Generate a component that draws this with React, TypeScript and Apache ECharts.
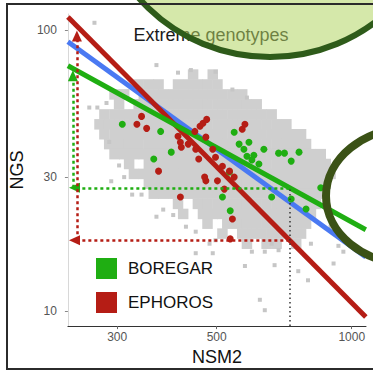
import React, { useEffect, useRef } from 'react';
import * as echarts from 'echarts';

const FONT = 'Liberation Sans, Arial, Helvetica, sans-serif';

const X_TICKS = [300, 500, 1000];
const Y_TICKS = [10, 30, 100];
const X_RANGE = [233, 1076];
const Y_RANGE = [8.87, 113.9];

// background cloud (all genotypes): each row = [NGS, NSM2 values]
const cloudRows: Array<[number, number[]]> = [
  [69.4, [443, 490]],
  [64.0, [335, 353, 371, 410, 432, 454, 477, 502]],
  [59.0, [296, 311, 344, 362, 380, 400, 421, 443, 466, 490, 515, 542, 570]],
  [54.4, [303, 335, 353, 371, 390, 410, 432, 454, 477, 502, 528, 555, 584, 614]],
  [50.1, [281, 296, 311, 327, 344, 362, 380, 400, 421, 443, 466, 490, 515, 542, 570, 599, 630, 663]],
  [46.2, [274, 288, 303, 319, 335, 353, 371, 390, 410, 432, 454, 477, 502, 528, 555, 584, 614, 646, 680, 715]],
  [42.6, [281, 296, 311, 327, 344, 362, 380, 400, 421, 443, 466, 490, 515, 542, 570, 599, 630, 663, 697, 733, 771]],
  [39.3, [288, 303, 319, 335, 353, 371, 390, 410, 432, 454, 477, 502, 528, 555, 584, 614, 646, 680, 715, 752, 791]],
  [36.2, [296, 311, 327, 344, 362, 380, 400, 421, 443, 466, 490, 515, 542, 570, 599, 630, 663, 697, 733, 771, 811, 853]],
  [33.4, [319, 353, 371, 390, 410, 432, 454, 477, 502, 528, 555, 584, 614, 646, 680, 715, 752, 791, 832, 875]],
  [30.8, [327, 344, 362, 380, 400, 421, 443, 466, 490, 515, 542, 570, 599, 630, 663, 697, 733, 771, 811, 853, 897]],
  [28.4, [353, 371, 390, 410, 432, 454, 477, 502, 528, 555, 584, 614, 646, 680, 715, 752, 791, 832, 875]],
  [26.2, [362, 380, 400, 421, 443, 466, 490, 515, 542, 570, 599, 630, 663, 697, 733, 771, 811, 853]],
  [24.1, [410, 454, 477, 502, 528, 555, 584, 614, 646, 680, 715, 752, 791, 832]],
  [22.2, [421, 466, 490, 515, 542, 570, 599, 630, 663, 697, 733, 771, 811]],
  [20.5, [477, 528, 555, 584, 614, 646, 680, 715, 752, 791]],
  [18.9, [515, 570, 599, 630, 663, 697, 733, 771]],
  [17.4, [584, 646, 680, 752]],
];

const cloudSparse: Array<[number, number]> = [
  [267, 106], [367, 75], [410, 70.5], [438, 72], [497, 71], [260, 53], [271, 53], [284, 55],
  [288, 40], [303, 33], [291, 29], [324, 26], [340, 26], [367, 21.7], [380, 23], [400, 22],
  [427, 20], [449, 19.2], [482, 17.4], [497, 17.9], [449, 16.1], [490, 16.1], [599, 16.3],
  [640, 16.3], [687, 16.5], [578, 14.5], [673, 14.6], [760, 13.9], [799, 12.9], [911, 14.8],
  [958, 16.3], [624, 11], [640, 10.1], [897, 20], [934, 17.1], [811, 17.4], [663, 17.4],
  [311, 30], [542, 61.4], [584, 57.5],
];

const boregar: Array<[number, number]> = [
  [308, 46.2], [375, 43.6], [396, 36.8], [362, 34.8], [547, 43.3], [561, 39.3], [590, 39.9],
  [575, 37.7], [637, 37.7], [687, 36.5], [708, 36.5], [763, 36.8], [605, 35.9], [599, 34.5],
  [621, 33.4], [733, 34.2], [534, 31.3], [515, 25.5], [536, 22.8], [663, 25.5], [733, 25.1],
  [791, 23.1], [853, 27.5], [584, 35.6],
];

const ephoros: Array<[number, number]> = [
  [332, 46.2], [340, 49.3], [349, 44.7], [371, 31.5], [410, 41.9], [415, 39.9], [417, 38.3],
  [415, 25.5], [447, 43.6], [459, 45.5], [466, 46.6], [475, 48.1], [473, 41.6], [449, 37.7],
  [497, 35.3], [515, 32.8], [534, 31.5], [547, 30.0], [473, 29.1], [502, 29.1], [470, 30.0],
  [578, 46.2], [570, 44.4], [542, 21.3], [536, 18.1], [432, 39.3], [490, 37.7], [456, 34.8],
  [520, 27.2],
];

// regression lines (end points)
const lineAll: Array<[number, number]> = [[233, 90.7], [1075, 15.6]];
const lineEphoros: Array<[number, number]> = [[233, 111.2], [1075, 9.55]];
const lineBoregar: Array<[number, number]> = [[233, 74.6], [1075, 19.5]];

// reading arrows
const DROP_X = 726;
const GREEN_LEVEL = 27.5;
const RED_LEVEL = 17.9;
const ARROW_TIP_X = 241;
const GREEN_VERT_X = 239;
const RED_VERT_X = 244;
const GREEN_TOP = 68.8;
const RED_TOP = 95.2;

const L = (p: [number, number]) => [Math.log10(p[0]), Math.log10(p[1])];

const GREEN = '#1fae12';
const RED = '#b51d15';
const BLUE = '#4a79f2';

export default function App() {
  const ref = useRef<HTMLDivElement>(null);
  useEffect(() => {
    if (!ref.current) return;
    const chart = echarts.init(ref.current, undefined, { renderer: 'svg' });
    const cloud = cloudRows.flatMap(([y, xs]) => xs.map((x) => L([x, y])));
    const mk = (a: [number, number], b: [number, number], color: string) => [
      { coord: L(a), lineStyle: { color, width: 2.5, type: [3, 3] } },
      { coord: L(b) },
    ];
    const option: any = {
      animation: false,
      backgroundColor: '#ffffff',
      textStyle: { fontFamily: FONT },
      grid: { left: 63, right: 7, top: 14, bottom: 43 },
      xAxis: {
        type: 'value',
        min: Math.log10(X_RANGE[0]),
        max: Math.log10(X_RANGE[1]),
        splitLine: { show: false },
        axisLine: { show: true, lineStyle: { color: '#333', width: 1 } },
        axisTick: { show: true, length: 3, customValues: X_TICKS.map((v) => Math.log10(v)), lineStyle: { color: '#666' } },
        axisLabel: {
          customValues: X_TICKS.map((v) => Math.log10(v)),
          formatter: (v: number) => String(Math.round(Math.pow(10, v))),
          fontSize: 12, color: '#555', margin: 5, fontFamily: FONT,
        },
        name: 'NSM2', nameLocation: 'middle', nameGap: 19,
        nameTextStyle: { fontSize: 18, color: '#111', fontFamily: FONT },
      },
      yAxis: {
        type: 'value',
        min: Math.log10(Y_RANGE[0]),
        max: Math.log10(Y_RANGE[1]),
        splitLine: { show: false },
        axisLine: { show: true, lineStyle: { color: '#d8d8d8', width: 1 } },
        axisTick: { show: true, length: 3, customValues: Y_TICKS.map((v) => Math.log10(v)), lineStyle: { color: '#888' } },
        axisLabel: {
          customValues: Y_TICKS.map((v) => Math.log10(v)),
          formatter: (v: number) => String(Math.round(Math.pow(10, v))),
          fontSize: 12, color: '#555', margin: 11, fontFamily: FONT,
        },
        name: 'NGS', nameLocation: 'middle', nameGap: 36,
        nameTextStyle: { fontSize: 18, color: '#111', fontFamily: FONT },
      },
      legend: {
        data: ['BOREGAR', 'EPHOROS'],
        orient: 'vertical', left: 96, top: 258, padding: 0,
        itemWidth: 21, itemHeight: 21, itemGap: 13, icon: 'rect',
        textStyle: { fontSize: 17, color: '#111', fontFamily: FONT, padding: [0, 0, 0, 6] },
      },
      series: [
        {
          name: 'cloud', type: 'scatter', symbol: 'rect', symbolSize: 10.5, silent: true, z: 1,
          itemStyle: { color: '#cfcfcf', opacity: 1 }, data: cloud,
        },
        {
          name: 'cloudSparse', type: 'scatter', symbol: 'rect', symbolSize: 4, silent: true, z: 2,
          itemStyle: { color: '#c6c6c6', opacity: 1 }, data: cloudSparse.map(L),
          markLine: {
            silent: true, symbol: ['none', 'triangle'], symbolSize: [10, 11],
            label: { show: false }, emphasis: { disabled: true },
            data: [
              mk([DROP_X, GREEN_LEVEL], [ARROW_TIP_X, GREEN_LEVEL], GREEN),
              mk([GREEN_VERT_X, GREEN_LEVEL], [GREEN_VERT_X, GREEN_TOP], GREEN),
              mk([DROP_X, RED_LEVEL], [ARROW_TIP_X, RED_LEVEL], RED),
              mk([RED_VERT_X, RED_LEVEL], [RED_VERT_X, RED_TOP], RED),
              [
                { coord: L([DROP_X, Y_RANGE[0]]), symbol: 'none', lineStyle: { color: '#333', width: 1.5, type: [1.5, 3] } },
                { coord: L([DROP_X, GREEN_LEVEL]), symbol: 'none' },
              ],
            ],
          },
        },
        {
          name: 'all', type: 'line', showSymbol: false, symbol: 'none', z: 3,
          lineStyle: { color: BLUE, width: 5 }, data: lineAll.map(L),
        },
        {
          name: 'EPHOROS fit', type: 'line', showSymbol: false, symbol: 'none', z: 3,
          lineStyle: { color: RED, width: 5 }, data: lineEphoros.map(L),
        },
        {
          name: 'BOREGAR fit', type: 'line', showSymbol: false, symbol: 'none', z: 3,
          lineStyle: { color: GREEN, width: 5 }, data: lineBoregar.map(L),
        },
        {
          name: 'BOREGAR', type: 'scatter', symbol: 'circle', symbolSize: 7, z: 4,
          itemStyle: { color: GREEN, opacity: 1 }, data: boregar.map(L),
        },
        {
          name: 'EPHOROS', type: 'scatter', symbol: 'circle', symbolSize: 7, z: 4,
          itemStyle: { color: RED, opacity: 1 }, data: ephoros.map(L),
        },
      ],
      graphic: [
        {
          type: 'text', z: 10, x: 211, y: 35,
          style: { text: 'Extreme genotypes', fontSize: 18, fontFamily: FONT, fill: '#1a1a1a', textAlign: 'center', textVerticalAlign: 'middle' },
        },
        {
          type: 'ellipse', z: 20,
          shape: { cx: 270, cy: -110, rx: 172, ry: 167 },
          style: { fill: 'rgba(179,213,100,0.55)', stroke: '#2e5b1a', lineWidth: 6 },
        },
        {
          type: 'ellipse', z: 20,
          shape: { cx: 410, cy: 196, rx: 84, ry: 68 },
          style: { fill: 'none', stroke: '#3b5216', lineWidth: 8 },
        },
        {
          type: 'rect', z: 30,
          shape: { x: 7, y: 4, width: 372, height: 365 },
          style: { fill: 'none', stroke: '#2b2b2b', lineWidth: 2 },
        },
      ],
    };
    chart.setOption(option);
    return () => chart.dispose();
  }, []);
  return <div ref={ref} style={{ width: 373, height: 371, position: 'absolute', left: 0, top: 0 }} />;
}
